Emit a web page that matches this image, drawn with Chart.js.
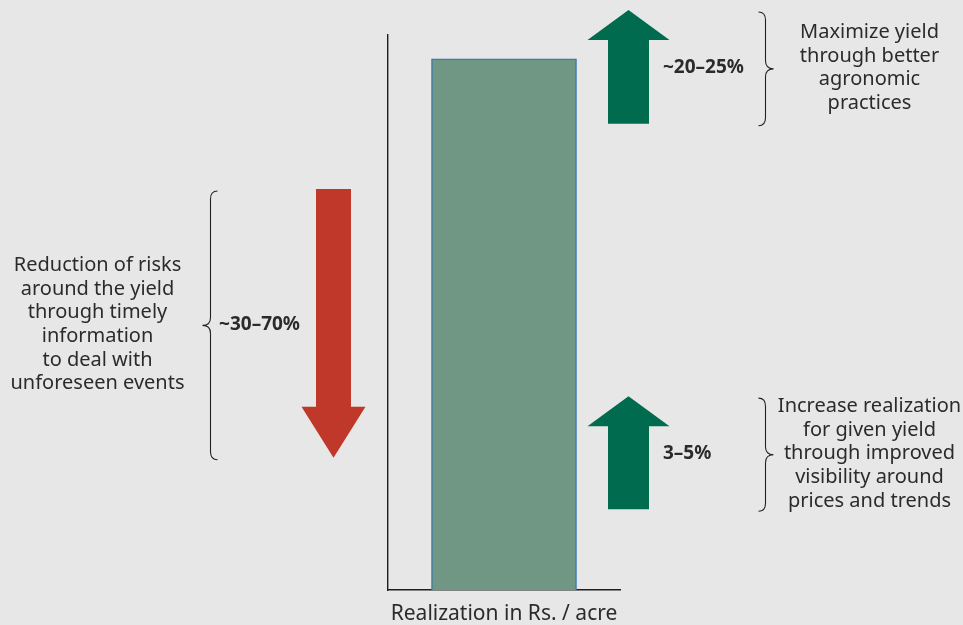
<!DOCTYPE html>
<html>
<head>
<meta charset="utf-8">
<script src="https://cdn.jsdelivr.net/npm/chart.js@4/dist/chart.umd.min.js"></script>
<style>
  html, body { margin: 0; padding: 0; background: #e7e7e7; }
  #wrap { width: 963px; height: 625px; position: relative; }
</style>
</head>
<body>
<div id="wrap"><canvas id="realizationChart"></canvas></div>
<script>
// single bar: realization per acre (indexed to 100)
const categories = ["Realization"];
const realization = [100];
const axisTitle = "Realization in Rs. / acre";
const yMax = 104.5;

// levers shown as arrows next to the bar, in the same y units
const leverLabels = ["~20–25%", "3–5%", "~30–70%"];
const leverFrom = [87.8, 15.2, 75.5];
const leverTo = [109.2, 36.5, 24.9];
const leverNotes = [
  ["Maximize yield", "through better", "agronomic", "practices"],
  ["Increase realization", "for given yield", "through improved", "visibility around", "prices and trends"],
  ["Reduction of risks", "around the yield", "through timely", "information", "to deal with", "unforeseen events"],
];

const GREEN = "#006b4e";
const RED = "#c0382a";
const TEXT = "#2b2b2b";
const FONT = "'Noto Sans', 'Open Sans', sans-serif";

function drawBrace(ctx, xs, y1, y2, dir) {
  const ym = (y1 + y2) / 2;
  const r = 8;
  const tip = xs + dir * 8;
  const end = xs - dir * 7;
  ctx.beginPath();
  ctx.moveTo(end, y1);
  ctx.quadraticCurveTo(xs, y1, xs, y1 + r);
  ctx.lineTo(xs, ym - r);
  ctx.quadraticCurveTo(xs, ym, tip, ym);
  ctx.quadraticCurveTo(xs, ym, xs, ym + r);
  ctx.lineTo(xs, y2 - r);
  ctx.quadraticCurveTo(xs, y2, end, y2);
  ctx.stroke();
}

const leverPlugin = {
  id: "levers",
  afterDatasetsDraw(chart) {
    const ctx = chart.ctx;
    const y = chart.scales.y;
    const bar = chart.getDatasetMeta(0).data[0];
    const barLeft = bar.x - bar.width / 2;
    const barRight = bar.x + bar.width / 2;

    ctx.save();
    leverLabels.forEach((label, i) => {
      const up = leverTo[i] > leverFrom[i];
      const yFrom = y.getPixelForValue(leverFrom[i]);
      const yTo = y.getPixelForValue(leverTo[i]);
      const mid = (yFrom + yTo) / 2;
      const cx = up ? barRight + 52 : barLeft - 98;
      const shaft = up ? 41 : 35;
      const head = up ? 82 : 64;
      const headLen = up ? 30 : 51;
      const d = up ? -1 : 1;

      // arrow
      ctx.fillStyle = up ? GREEN : RED;
      ctx.beginPath();
      ctx.moveTo(cx - shaft / 2, yFrom);
      ctx.lineTo(cx - shaft / 2, yTo - d * headLen);
      ctx.lineTo(cx - head / 2, yTo - d * headLen);
      ctx.lineTo(cx, yTo);
      ctx.lineTo(cx + head / 2, yTo - d * headLen);
      ctx.lineTo(cx + shaft / 2, yTo - d * headLen);
      ctx.lineTo(cx + shaft / 2, yFrom);
      ctx.closePath();
      ctx.fill();

      // percentage label
      ctx.fillStyle = TEXT;
      ctx.font = "bold 19px " + FONT;
      ctx.textBaseline = "middle";
      ctx.textAlign = up ? "left" : "right";
      ctx.fillText(label, up ? cx + shaft / 2 + 14 : cx - shaft / 2 - 16, mid + 1);

      // brace
      const top = Math.min(yFrom, yTo);
      const bottom = Math.max(yFrom, yTo);
      ctx.strokeStyle = "#222";
      ctx.lineWidth = 1.1;
      const braceX = up ? cx + 137 : cx - 123;
      drawBrace(ctx, braceX, top + 2, bottom + 2, up ? 1 : -1);

      // note text
      const lines = leverNotes[i];
      const lh = 23.7;
      const noteX = up ? braceX + 104 : braceX - 113;
      ctx.font = "20px " + FONT;
      ctx.textAlign = "center";
      lines.forEach((t, k) => {
        ctx.fillText(t, noteX, mid + 1 + (k - (lines.length - 1) / 2) * lh);
      });
    });
    ctx.restore();
  },
};

new Chart(document.getElementById("realizationChart"), {
  type: "bar",
  data: {
    labels: categories,
    datasets: [
      {
        data: realization,
        backgroundColor: "#6f9783",
        borderColor: "#2f74b5",
        borderWidth: 1.3,
        barThickness: 145,
      },
    ],
  },
  options: {
    responsive: true,
    maintainAspectRatio: false,
    animation: false,
    layout: { padding: { left: 388, right: 343, top: 35, bottom: 0 } },
    plugins: { legend: { display: false }, tooltip: { enabled: false } },
    scales: {
      x: {
        grid: { display: false, drawTicks: false },
        border: { display: true, color: "#1e1e1e", width: 1.4 },
        ticks: { display: false },
        title: {
          display: true,
          text: axisTitle,
          color: TEXT,
          font: { family: FONT, size: 21, lineHeight: 1 },
          padding: { top: 14, bottom: 0 },
        },
      },
      y: {
        min: 0,
        max: yMax,
        grid: { display: false, drawTicks: false },
        border: { display: true, color: "#1e1e1e", width: 1.4 },
        ticks: { display: false },
      },
    },
  },
  plugins: [leverPlugin],
});
</script>
</body>
</html>
